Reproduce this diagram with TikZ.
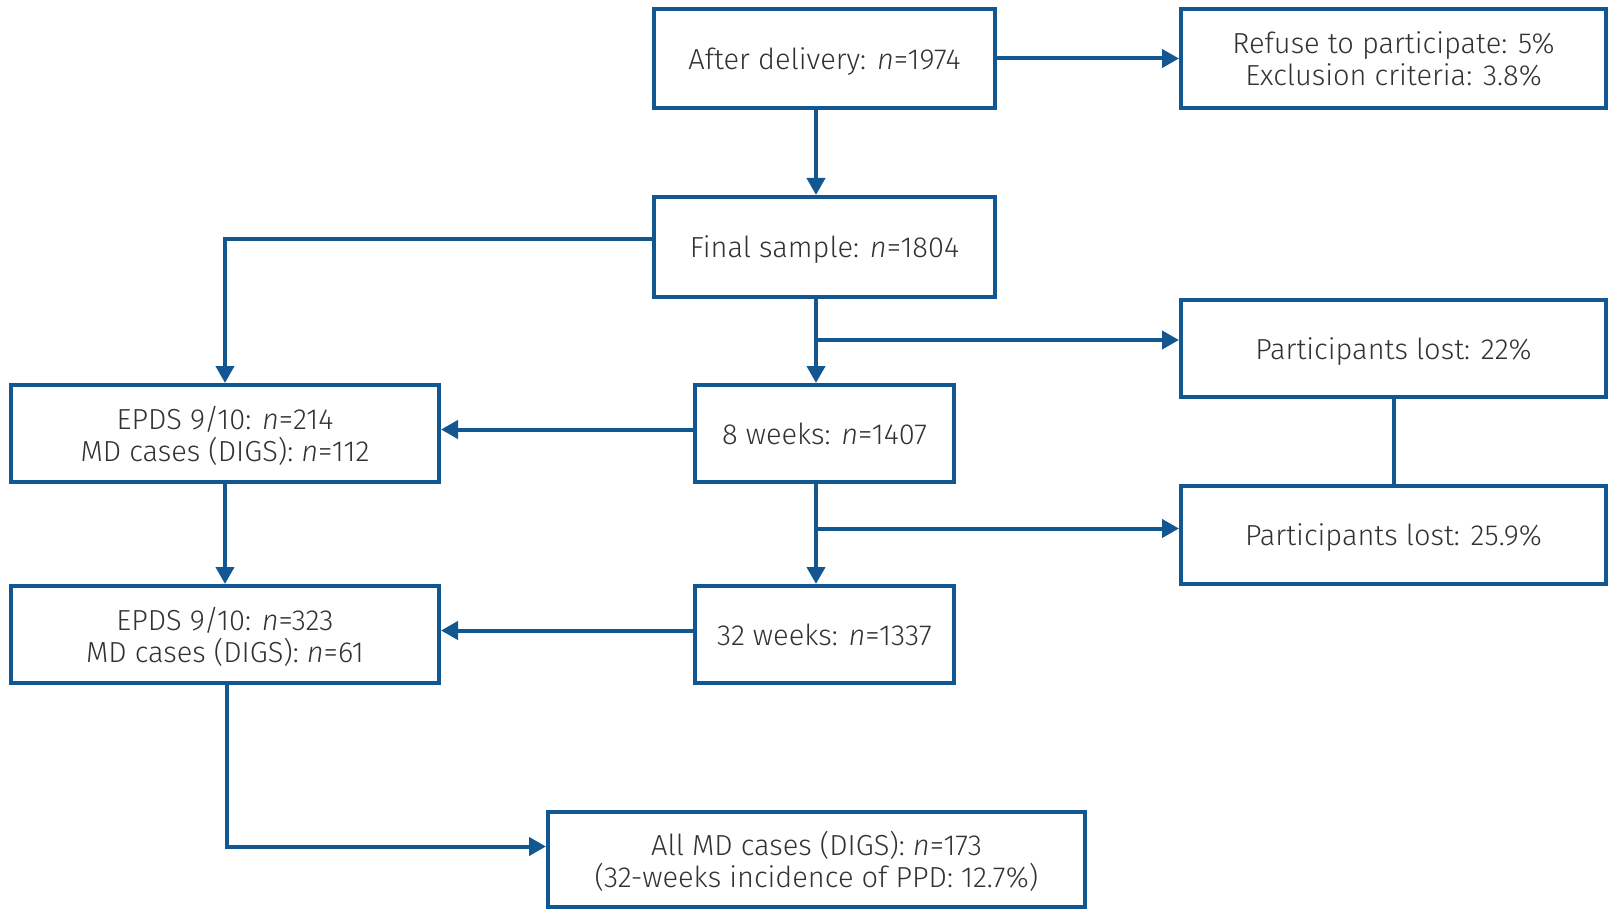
\documentclass[tikz,border=0pt]{standalone}
\usepackage{fontspec}
\setmainfont{Fira Sans}[UprightFont={* Light}, ItalicFont={* Light Italic}]
\usetikzlibrary{arrows.meta}
\definecolor{flowblue}{RGB}{18,86,146}
\definecolor{flowtext}{RGB}{50,50,50}
\tikzset{
  box/.style={draw=flowblue, line width=4pt, rectangle, align=center,
    text=flowtext, inner sep=0pt, text depth=0pt,
    font=\fontsize{29pt}{32pt}\selectfont},
  link/.style={draw=flowblue, line width=4pt},
  arr/.style={link, -{Triangle[length=17pt,width=18pt]}}
}
\begin{document}
\begin{tikzpicture}[x=1pt,y=-1pt]
\useasboundingbox (0,0) rectangle (1609,909);

% boxes
\node[box, minimum width=341pt, minimum height=99pt] (after) at (824.5,58.5) {After delivery: \textit{n}=1974};
\node[box, minimum width=425pt, minimum height=99pt] (refuse) at (1393.5,58.5) {Refuse to participate: 5\%\\Exclusion criteria: 3.8\%};
\node[box, minimum width=341pt, minimum height=100pt] (final) at (824.5,247) {Final sample: \textit{n}=1804};
\node[box, minimum width=425pt, minimum height=97pt] (lost1) at (1393.5,348.5) {Participants lost: 22\%};
\node[box, minimum width=259pt, minimum height=97pt] (w8) at (824.5,433.5) {8 weeks: \textit{n}=1407};
\node[box, minimum width=428pt, minimum height=97pt] (epds1) at (225,433.5) {EPDS 9/10: \textit{n}=214\\MD cases (DIGS): \textit{n}=112};
\node[box, minimum width=425pt, minimum height=98pt] (lost2) at (1393.5,535) {Participants lost: 25.9\%};
\node[box, minimum width=259pt, minimum height=97pt] (w32) at (824.5,634.5) {32 weeks: \textit{n}=1337};
\node[box, minimum width=428pt, minimum height=97pt] (epds2) at (225,634.5) {EPDS 9/10: \textit{n}=323\\MD cases (DIGS): \textit{n}=61};
\node[box, minimum width=537pt, minimum height=95pt] (allmd) at (816.5,859.5) {All MD cases (DIGS): \textit{n}=173\\(32-weeks incidence of PPD: 12.7\%)};

% main trunk and branch points
\coordinate (trunk) at (816,0);
\coordinate (b1) at (816,340);
\coordinate (b2) at (816,528.5);

\draw[arr] (after.east) -- (refuse.west);
\draw[arr] (trunk |- after.south) -- (trunk |- final.north);
\draw[arr] ([yshift=8pt]final.west) -| (epds1.north);
\draw[arr] (trunk |- final.south) -- (trunk |- w8.north);
\draw[arr] (b1) -- (b1 -| lost1.west);
\draw[arr] ([yshift=4pt]w8.west) -- ([yshift=4pt]epds1.east);
\draw[link] (lost1.south) -- (lost2.north);
\draw[arr] (trunk |- w8.south) -- (trunk |- w32.north);
\draw[arr] (b2) -- (b2 -| lost2.west);
\draw[arr] (epds1.south) -- (epds2.north);
\draw[arr] ([yshift=4pt]w32.west) -- ([yshift=4pt]epds2.east);
\draw[arr] ([xshift=2pt]epds2.south) |- ([yshift=13pt]allmd.west);
\end{tikzpicture}
\end{document}
